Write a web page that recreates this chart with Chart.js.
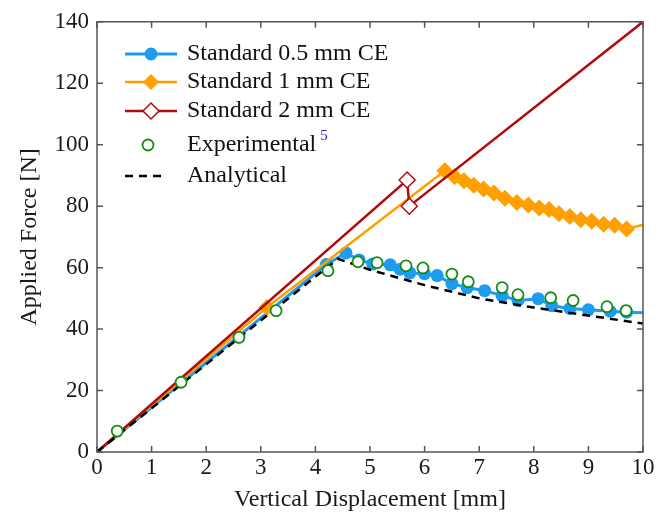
<!DOCTYPE html>
<html lang="en">
<head>
    <meta charset="UTF-8">
    <title>Applied Force vs Vertical Displacement</title>
    <script src="https://cdn.jsdelivr.net/npm/chart.js"></script>
    <style>
        body {
            margin: 0;
            background-color: white;
        }
        #wrap {
            width: 657px;
            height: 519px;
        }
    </style>
</head>
<body>
    <div id="wrap">
        <canvas id="forceChart" width="657" height="519"></canvas>
    </div>

    <script>
        // Values
        const std05X = [0, 4.2, 4.56, 4.8, 5.05, 5.37, 5.55, 5.73, 6.0, 6.23, 6.5, 6.78, 7.1, 7.42, 7.71, 8.08, 8.33, 8.66, 9.0, 9.4, 9.7, 10];
        const std05Y = [0, 61, 64.8, 62.5, 61.2, 60.9, 59.5, 58.3, 58.0, 57.4, 54.8, 53.5, 52.5, 50.9, 49.3, 49.9, 47.6, 46.7, 46.3, 45.8, 45.5, 45.3];

        const std1X = [0, 3.11, 6.37, 6.55, 6.72, 6.9, 7.08, 7.27, 7.47, 7.69, 7.9, 8.1, 8.28, 8.46, 8.66, 8.86, 9.06, 9.28, 9.48, 9.7, 10];
        const std1Y = [0, 47, 91.5, 89.6, 88.3, 86.8, 85.6, 84.3, 82.6, 81.2, 80.4, 79.4, 78.9, 77.5, 76.6, 75.6, 75.1, 74.1, 73.8, 72.6, 74];

        const std2X = [0, 5.68, 5.72, 10];
        const std2Y = [0, 88.5, 80, 140];

        const expX = [0.37, 1.54, 2.6, 3.28, 4.23, 4.78, 5.13, 5.66, 5.97, 6.5, 6.8, 7.42, 7.71, 8.31, 8.72, 9.34, 9.69];
        const expY = [6.8, 22.7, 37.3, 46, 59, 61.9, 61.6, 60.6, 59.9, 57.9, 55.4, 53.5, 51.2, 50.2, 49.3, 47.3, 46];

        const anaX = [0, 4.41, 5, 6, 7, 8, 9, 10];
        const anaY = [0, 62.9, 59.3, 54.3, 50, 47, 44.4, 41.8];

        const xTicks = [0, 1, 2, 3, 4, 5, 6, 7, 8, 9, 10];
        const yTicks = [0, 20, 40, 60, 80, 100, 120, 140];

        const seriesNames = ['Standard 0.5 mm CE', 'Standard 1 mm CE', 'Standard 2 mm CE', 'Experimental', 'Analytical'];

        const toPoints = (xs, ys) => xs.map((x, i) => ({ x: x, y: ys[i] }));
        // no marker on the first / last point of a curve
        const edgeless = (n, r) => Array.from({ length: n }, (_, i) => (i === 0 || i === n - 1) ? 0 : r);

        const SERIF = '"Liberation Serif", "Times New Roman", serif';
        const BLUE = '#1c9cf0';
        const ORANGE = '#ffa000';
        const RED = '#b00c0c';
        const GREEN = '#148c14';

        const data = {
            datasets: [
                {
                    label: seriesNames[0],
                    data: toPoints(std05X, std05Y),
                    showLine: true,
                    borderColor: BLUE,
                    backgroundColor: BLUE,
                    borderWidth: 3,
                    pointStyle: 'circle',
                    pointRadius: edgeless(std05X.length, 6.5),
                    pointBorderWidth: 0,
                    order: 4
                },
                {
                    label: seriesNames[1],
                    data: toPoints(std1X, std1Y),
                    showLine: true,
                    borderColor: ORANGE,
                    backgroundColor: ORANGE,
                    borderWidth: 2.5,
                    pointStyle: 'rectRot',
                    pointRadius: edgeless(std1X.length, 8.5),
                    pointBorderWidth: 0,
                    order: 3
                },
                {
                    label: seriesNames[2],
                    data: toPoints(std2X, std2Y),
                    showLine: true,
                    borderColor: RED,
                    backgroundColor: 'white',
                    borderWidth: 2.5,
                    pointStyle: 'rectRot',
                    pointRadius: edgeless(std2X.length, 8),
                    pointBorderWidth: 1.5,
                    order: 2
                },
                {
                    label: seriesNames[3],
                    data: toPoints(expX, expY),
                    showLine: false,
                    borderColor: GREEN,
                    backgroundColor: 'white',
                    pointStyle: 'circle',
                    pointRadius: 5.5,
                    pointBorderWidth: 1.8,
                    order: 0
                },
                {
                    label: seriesNames[4],
                    data: toPoints(anaX, anaY),
                    showLine: true,
                    borderColor: '#000000',
                    borderWidth: 2.5,
                    borderDash: [8, 6],
                    pointRadius: 0,
                    order: 1
                }
            ]
        };

        // Box around the plot with inward ticks on all four sides
        const framePlugin = {
            id: 'framePlugin',
            afterDraw: (chart) => {
                const ctx = chart.ctx;
                const a = chart.chartArea;
                const xs = chart.scales.x;
                const ys = chart.scales.y;
                const tick = 6;

                ctx.save();
                ctx.strokeStyle = '#555555';
                ctx.lineWidth = 1.5;
                ctx.strokeRect(a.left, a.top, a.right - a.left, a.bottom - a.top);
                ctx.beginPath();
                xTicks.forEach(v => {
                    const px = xs.getPixelForValue(v);
                    ctx.moveTo(px, a.bottom);
                    ctx.lineTo(px, a.bottom - tick);
                    ctx.moveTo(px, a.top);
                    ctx.lineTo(px, a.top + tick);
                });
                yTicks.forEach(v => {
                    const py = ys.getPixelForValue(v);
                    ctx.moveTo(a.left, py);
                    ctx.lineTo(a.left + tick, py);
                    ctx.moveTo(a.right, py);
                    ctx.lineTo(a.right - tick, py);
                });
                ctx.stroke();
                ctx.restore();
            }
        };

        // Legend drawn inside the plot, top left
        const legendPlugin = {
            id: 'legendPlugin',
            afterDraw: (chart) => {
                const ctx = chart.ctx;
                const rows = [54, 82, 111, 145, 176];
                const x0 = 125, x1 = 177, xText = 187;
                const font = '24px ' + SERIF;

                ctx.save();
                ctx.font = font;
                ctx.textBaseline = 'middle';
                ctx.textAlign = 'left';

                chart.data.datasets.forEach((ds, i) => {
                    const y = rows[i];
                    const cx = (x0 + x1) / 2;
                    if (ds.showLine) {
                        ctx.beginPath();
                        ctx.strokeStyle = ds.borderColor;
                        ctx.lineWidth = ds.borderWidth;
                        ctx.setLineDash(ds.borderDash || []);
                        ctx.moveTo(x0, y);
                        ctx.lineTo(ds.borderDash ? 167 : x1, y);
                        ctx.stroke();
                        ctx.setLineDash([]);
                    }
                    const r = Array.isArray(ds.pointRadius) ? Math.max(...ds.pointRadius) : ds.pointRadius;
                    if (r > 0) {
                        ctx.fillStyle = ds.backgroundColor;
                        ctx.strokeStyle = ds.borderColor;
                        ctx.lineWidth = ds.pointBorderWidth;
                        Chart.helpers.drawPoint(ctx, {
                            pointStyle: ds.pointStyle, radius: Math.min(r, 8), rotation: 0, borderWidth: ds.pointBorderWidth
                        }, i === 3 ? 148 : cx, y);
                    }
                    ctx.fillStyle = '#111111';
                    ctx.fillText(ds.label, xText, y);
                    if (i === 3) {
                        const w = ctx.measureText(ds.label).width;
                        ctx.font = '15px ' + SERIF;
                        ctx.fillStyle = '#22229a';
                        ctx.fillText('5', xText + w + 4, y - 9);
                        ctx.font = font;
                    }
                });
                ctx.restore();
            }
        };

        const config = {
            type: 'scatter',
            data: data,
            plugins: [framePlugin, legendPlugin],
            options: {
                responsive: false,
                animation: false,
                layout: {
                    padding: { top: 20, right: 14, left: 0, bottom: 0 }
                },
                plugins: {
                    legend: { display: false },
                    tooltip: { enabled: false }
                },
                scales: {
                    x: {
                        type: 'linear',
                        min: 0,
                        max: 10,
                        afterFit: (scale) => { scale.height = 67; },
                        afterBuildTicks: (scale) => { scale.ticks = xTicks.map(v => ({ value: v })); },
                        ticks: {
                            font: { family: SERIF, size: 23 },
                            color: '#1a1a1a',
                            padding: 2,
                            maxRotation: 0
                        },
                        grid: { display: false, drawTicks: false },
                        border: { display: false },
                        title: {
                            display: true,
                            text: 'Vertical Displacement [mm]',
                            font: { family: SERIF, size: 24 },
                            color: '#1a1a1a',
                            padding: { top: 0, bottom: 5 }
                        }
                    },
                    y: {
                        type: 'linear',
                        min: 0,
                        max: 140,
                        afterFit: (scale) => { scale.width = 97; },
                        afterBuildTicks: (scale) => { scale.ticks = yTicks.map(v => ({ value: v })); },
                        ticks: {
                            font: { family: SERIF, size: 23 },
                            color: '#1a1a1a',
                            padding: 8
                        },
                        grid: { display: false, drawTicks: false },
                        border: { display: false },
                        title: {
                            display: true,
                            text: 'Applied Force [N]',
                            font: { family: SERIF, size: 24 },
                            color: '#1a1a1a',
                            padding: { top: 15, bottom: 0 }
                        }
                    }
                }
            }
        };

        const forceChart = new Chart(document.getElementById('forceChart'), config);
    </script>
</body>
</html>
